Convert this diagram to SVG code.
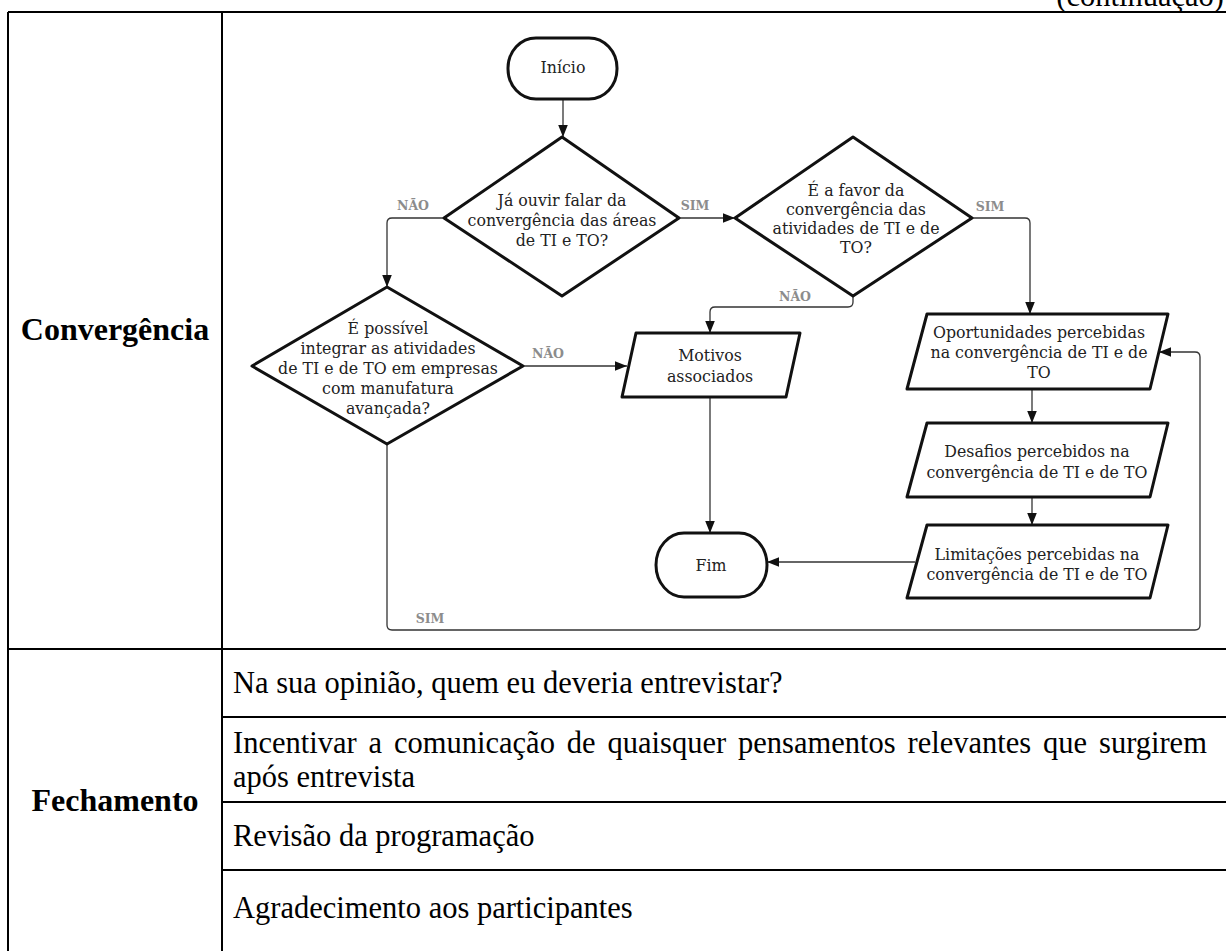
<svg xmlns="http://www.w3.org/2000/svg" width="1226" height="951" viewBox="0 0 1226 951">
<style>
.tbl{stroke:#000;stroke-width:2;fill:none}
.tt{font-family:"Liberation Serif","Times New Roman",serif;font-size:30.5px;fill:#000}
.tb{font-family:"Liberation Serif","Times New Roman",serif;font-size:32px;font-weight:bold;fill:#000}
.sh{fill:#fff;stroke:#111;stroke-width:3;stroke-linejoin:round}
.ft{font-family:"DejaVu Serif",serif;font-size:15.8px;fill:#222;text-anchor:middle}
.lb{font-family:"DejaVu Serif",serif;font-size:12.5px;font-weight:bold;fill:#8c8c8c;text-anchor:middle}
.cn{fill:none;stroke:#333;stroke-width:1.3}
</style>
<defs>
<marker id="ah" viewBox="0 0 10 10" refX="10" refY="5" markerWidth="12" markerHeight="12" markerUnits="userSpaceOnUse" orient="auto">
<path d="M0,1 L10,5 L0,9 z" fill="#111"/>
</marker>
</defs>
<rect width="1226" height="951" fill="#fff"/>
<text class="tt" x="1224" y="6" text-anchor="end">(continuação)</text>
<g id="table">
<path class="tbl" d="M8,12 H1226 M8,12 V951 M222,12 V951 M8,649 H1226 M222,717 H1226 M222,802 H1226 M222,870 H1226"/>
<text class="tb" x="115" y="340" text-anchor="middle">Convergência</text>
<text class="tb" x="115" y="811" text-anchor="middle">Fechamento</text>
<text class="tt" x="233" y="693">Na sua opinião, quem eu deveria entrevistar?</text>
<text class="tt" x="233" y="753" word-spacing="4.3">Incentivar a comunicação de quaisquer pensamentos relevantes que surgirem</text>
<text class="tt" x="233" y="787">após entrevista</text>
<text class="tt" x="233" y="846">Revisão da programação</text>
<text class="tt" x="233" y="918">Agradecimento aos participantes</text>
</g>
<g id="connectors">
<path class="cn" d="M563,99 V137" marker-end="url(#ah)"/>
<path class="cn" d="M444,218 H392 Q387,218 387,223 V287" marker-end="url(#ah)"/>
<path class="cn" d="M679,218 H735" marker-end="url(#ah)"/>
<path class="cn" d="M972,218 H1025 Q1030,218 1030,223 V314" marker-end="url(#ah)"/>
<path class="cn" d="M853,296 V302 Q853,307 848,307 H715 Q710,307 710,312 V333" marker-end="url(#ah)"/>
<path class="cn" d="M523,366 H627" marker-end="url(#ah)"/>
<path class="cn" d="M710,397 V533" marker-end="url(#ah)"/>
<path class="cn" d="M1032,389 V423" marker-end="url(#ah)"/>
<path class="cn" d="M1032,497 V525" marker-end="url(#ah)"/>
<path class="cn" d="M915,562 H767" marker-end="url(#ah)"/>
<path class="cn" d="M387,444 V625 Q387,630 392,630 H1195 Q1200,630 1200,625 V357 Q1200,352 1195,352 H1159" marker-end="url(#ah)"/>
<text class="lb" x="413" y="210">NÃO</text>
<text class="lb" x="695" y="210">SIM</text>
<text class="lb" x="990" y="211">SIM</text>
<text class="lb" x="795" y="301">NÃO</text>
<text class="lb" x="548" y="358">NÃO</text>
<text class="lb" x="430" y="623">SIM</text>
</g>
<g id="inicio">
<rect class="sh" x="508" y="38" width="109" height="61" rx="28" ry="30"/>
<text class="ft" x="563" y="73">Início</text>
</g>
<g id="decisao1">
<polygon class="sh" points="562,137 679,218 562,296 444,218"/>
<text class="ft" x="562" y="206">Já ouvir falar da</text>
<text class="ft" x="562" y="226">convergência das áreas</text>
<text class="ft" x="562" y="246">de TI e TO?</text>
</g>
<g id="decisao2">
<polygon class="sh" points="853,137 972,218 853,296 735,218"/>
<text class="ft" x="856" y="196">É a favor da</text>
<text class="ft" x="856" y="215">convergência das</text>
<text class="ft" x="856" y="234">atividades de TI e de</text>
<text class="ft" x="856" y="253">TO?</text>
</g>
<g id="decisao3">
<polygon class="sh" points="387,287 523,366 387,444 252,366"/>
<text class="ft" x="388" y="334">É possível</text>
<text class="ft" x="388" y="354">integrar as atividades</text>
<text class="ft" x="388" y="374">de TI e de TO em empresas</text>
<text class="ft" x="388" y="394">com manufatura</text>
<text class="ft" x="388" y="414">avançada?</text>
</g>
<g id="motivos">
<polygon class="sh" points="636,333 800,333 786,397 622,397"/>
<text class="ft" x="710" y="361">Motivos</text>
<text class="ft" x="710" y="382">associados</text>
</g>
<g id="oportunidades">
<polygon class="sh" points="927,314 1168,314 1150,389 907,389"/>
<text class="ft" x="1039" y="338">Oportunidades percebidas</text>
<text class="ft" x="1039" y="358">na convergência de TI e de</text>
<text class="ft" x="1039" y="378">TO</text>
</g>
<g id="desafios">
<polygon class="sh" points="927,423 1168,423 1150,497 907,497"/>
<text class="ft" x="1037" y="457">Desafios percebidos na</text>
<text class="ft" x="1037" y="478">convergência de TI e de TO</text>
</g>
<g id="limitacoes">
<polygon class="sh" points="927,525 1168,525 1150,598 907,598"/>
<text class="ft" x="1037" y="560">Limitações percebidas na</text>
<text class="ft" x="1037" y="580">convergência de TI e de TO</text>
</g>
<g id="fim">
<rect class="sh" x="656" y="533" width="111" height="64" rx="28" ry="32"/>
<text class="ft" x="711" y="571">Fim</text>
</g>
</svg>
